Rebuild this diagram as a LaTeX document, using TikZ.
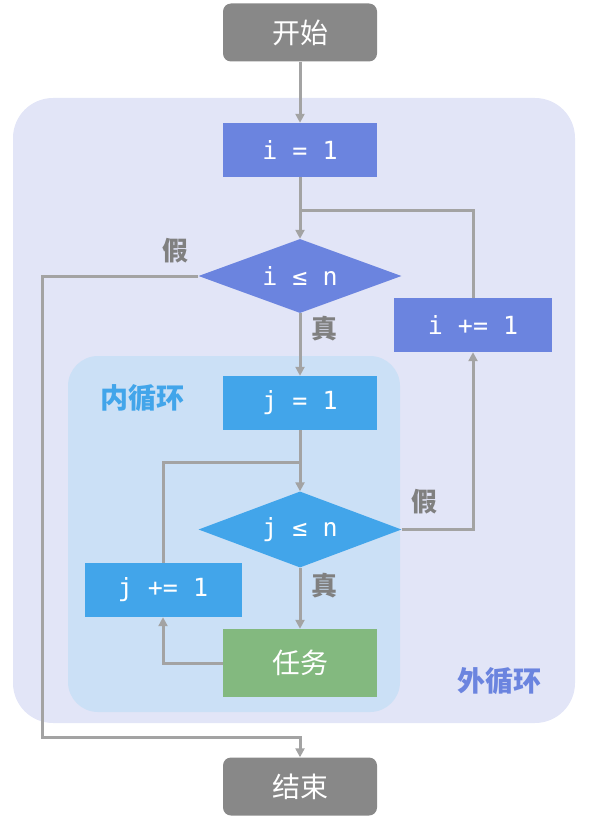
\documentclass[tikz,border=0pt]{standalone}
\usepackage{fontspec}
\newfontfamily\cjkf{Noto Sans CJK SC}
\newfontfamily\monof{DejaVu Sans Mono}
\usetikzlibrary{shapes.geometric,arrows.meta}
\definecolor{outerbg}{HTML}{E2E5F7}
\definecolor{innerbg}{HTML}{CBE0F6}
\definecolor{purp}{HTML}{6B84DF}
\definecolor{blu}{HTML}{42A5EA}
\definecolor{grn}{HTML}{83B97F}
\definecolor{termgray}{HTML}{888888}
\definecolor{linegray}{HTML}{A3A3A3}
\definecolor{lblgray}{HTML}{808080}
\begin{document}
\begin{tikzpicture}[x=1pt,y=-1pt,
  box/.style={rectangle, minimum width=154pt, minimum height=54pt, inner sep=0pt, text=white, font=\monof\fontsize{25}{25}\selectfont},
  term/.style={box, fill=termgray, rounded corners=8pt, minimum height=58pt, font=\cjkf\fontsize{28}{28}\selectfont},
  cond/.style={diamond, aspect=2.7, inner sep=0pt, minimum width=203pt, minimum height=74pt, text=white, font=\monof\fontsize{25}{25}\selectfont},
  lbl/.style={text=lblgray, inner sep=0pt, font=\cjkf\bfseries\fontsize{26}{26}\selectfont},
  line/.style={draw=linegray, line width=3pt, line join=miter},
  arr/.style={line, -{Triangle[length=9pt,width=9pt]}}
]
\useasboundingbox (0,0) rectangle (589,821);
\fill[outerbg, rounded corners=40pt] (13,98) rectangle (575,723);
\fill[innerbg, rounded corners=30pt] (68,356) rectangle (400,712);

\node[term] (start) at (300,32.5) {开始};
\node[box, fill=purp] (i1) at (300,150) {i = 1};
\node[cond, fill=purp] (ic) at (300,276) {i ≤ n};
\node[box, fill=purp, minimum width=158pt] (iinc) at (473,325) {i += 1};
\node[box, fill=blu] (j1) at (300,403) {j = 1};
\node[cond, fill=blu, minimum height=76pt] (jc) at (300,529.5) {j ≤ n};
\node[box, fill=blu, minimum width=157pt] (jinc) at (163,590) {j += 1};
\node[box, fill=grn, minimum height=68pt] (task) at (300,663) {\cjkf\fontsize{28}{28}\selectfont 任务};
\node[term] (end) at (300,786.5) {结束};

\node[lbl] (f1) at (175,251) {假};
\node[lbl] (t1) at (324,329) {真};
\node[lbl] (f2) at (424,502) {假};
\node[lbl] (t2) at (324,586) {真};
\node[lbl, text=blu, font=\cjkf\bfseries\fontsize{28}{28}\selectfont] (inl) at (142,398) {内循环};
\node[lbl, text=purp, font=\cjkf\bfseries\fontsize{28}{28}\selectfont] (outl) at (499,681) {外循环};

\coordinate (mi) at (300,210);
\coordinate (mj) at (300,462);
\coordinate (bl) at (42,737);

\draw[arr] (start) -- (i1);
\draw[arr] (i1) -- (ic);
\draw[line] (iinc.north) |- (mi);
\draw[arr] (ic) -- (j1);
\draw[arr] (j1) -- (jc);
\draw[line] (jinc.north) |- (mj);
\draw[arr] (jc.east) -| (iinc.south);
\draw[arr] (jc) -- (task);
\draw[arr] (task.west) -| (jinc.south);
\draw[arr] (ic.west) -| (bl) -| (end.north);
\end{tikzpicture}
\end{document}
